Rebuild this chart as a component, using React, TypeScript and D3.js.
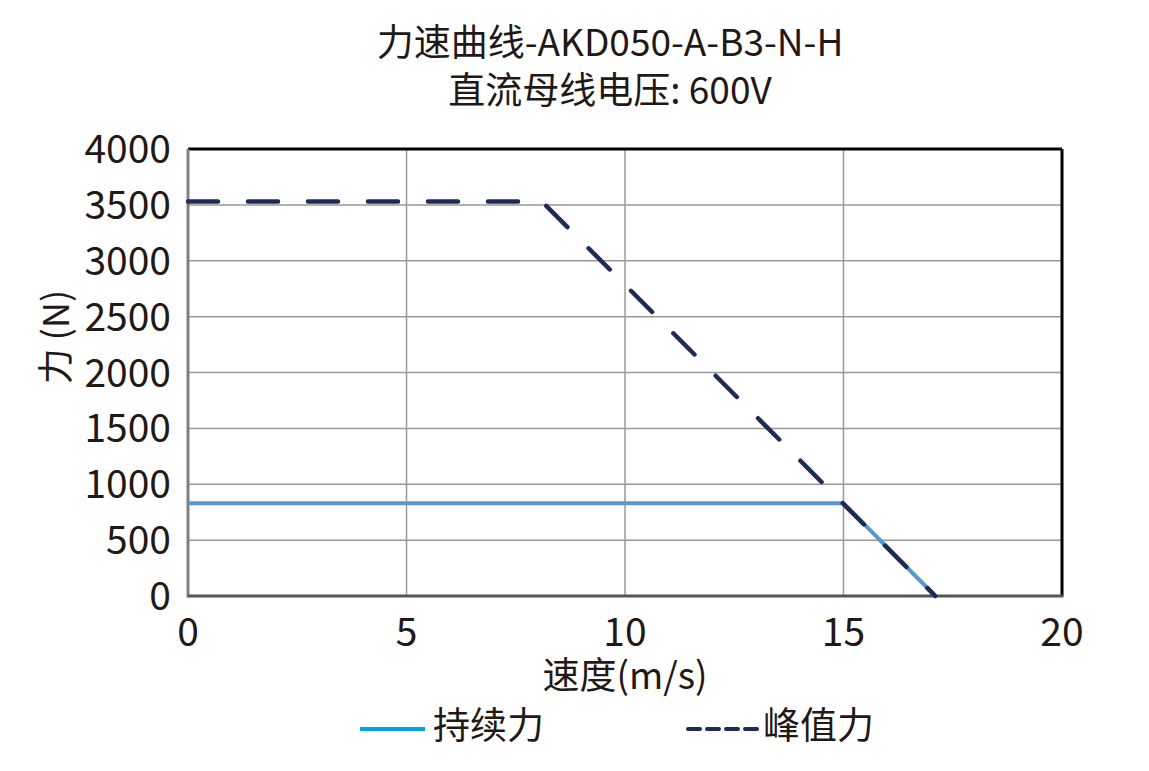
import React from "react";
import * as d3 from "d3";

const continuousSpeed = [0, 15, 17.1];
const continuousForce = [830, 830, 0];
const peakSpeed = [0, 8.1, 17.1];
const peakForce = [3530, 3530, 0];
const xTicks = [0, 5, 10, 15, 20];
const yTicks = [0, 500, 1000, 1500, 2000, 2500, 3000, 3500, 4000];
const titleLines = ["力速曲线-AKD050-A-B3-N-H", "直流母线电压: 600V"];
const xLabel = "速度(m/s)";
const yLabel = "力 (N)";
const legendNames = ["持续力", "峰值力"];

const W = 1149;
const H = 771;
const M = { left: 188, right: 1062, top: 149, bottom: 596 };
const FONT = "'Noto Sans CJK SC', 'Noto Sans', sans-serif";
const TXT = "#231815";

export default function App() {
  const x = d3.scaleLinear().domain([0, 20]).range([M.left, M.right]);
  const y = d3.scaleLinear().domain([0, 4000]).range([M.bottom, M.top]);
  const line = d3
    .line<[number, number]>()
    .x((d) => x(d[0]))
    .y((d) => y(d[1]));
  const cont = line(continuousSpeed.map((s, i) => [s, continuousForce[i]] as [number, number]));
  const peak = line(peakSpeed.map((s, i) => [s, peakForce[i]] as [number, number]));

  return (
    <svg
      width={W}
      height={H}
      style={{ position: "absolute", left: 0, top: 0, background: "#fff" }}
      fontFamily={FONT}
    >
      <rect x={0} y={0} width={W} height={H} fill="#fff" />
      {titleLines.map((t, i) => (
        <text key={i} x={610} y={40 + i * 48} textAnchor="middle" dominantBaseline="central" fontSize={37} fill={TXT}>
          {t}
        </text>
      ))}
      {/* grid */}
      {xTicks.slice(1, -1).map((t) => (
        <line key={"gx" + t} x1={x(t)} x2={x(t)} y1={M.top} y2={M.bottom} stroke="#999" strokeWidth={1.5} />
      ))}
      {yTicks.slice(1, -1).map((t) => (
        <line key={"gy" + t} x1={M.left} x2={M.right} y1={y(t)} y2={y(t)} stroke="#999" strokeWidth={1.5} />
      ))}
      {/* frame */}
      <line x1={M.left} x2={M.right} y1={M.top} y2={M.top} stroke="#000" strokeWidth={3} />
      <line x1={M.right} x2={M.right} y1={M.top} y2={M.bottom} stroke="#000" strokeWidth={3} />
      <line x1={M.left} x2={M.left} y1={M.top} y2={M.bottom + 1.5} stroke="#808080" strokeWidth={3} />
      <line x1={M.left} x2={M.right + 1.5} y1={M.bottom} y2={M.bottom} stroke="#555" strokeWidth={3} />
      {/* data */}
      <path d={cont ?? ""} fill="none" stroke="#5b97c9" strokeWidth={4} />
      <path
        d={peak ?? ""}
        fill="none"
        stroke="#1b2c55"
        strokeWidth={4.5}
        strokeDasharray="30 30"
        strokeLinecap="round"
      />
      {/* tick labels */}
      {xTicks.map((t) => (
        <text key={"xt" + t} x={x(t)} y={629} textAnchor="middle" dominantBaseline="central" fontSize={39} fill={TXT}>
          {t}
        </text>
      ))}
      {yTicks.map((t) => (
        <text key={"yt" + t} x={171} y={y(t) - 3} textAnchor="end" dominantBaseline="central" fontSize={39} fill={TXT}>
          {t}
        </text>
      ))}
      <text x={625} y={673} textAnchor="middle" dominantBaseline="central" fontSize={37} fill={TXT}>
        {xLabel}
      </text>
      <text
        transform={`translate(53,337) rotate(-90)`}
        textAnchor="middle"
        dominantBaseline="central"
        fontSize={36}
        fill={TXT}
      >
        {yLabel}
      </text>
      {/* legend */}
      <line x1={360} x2={425} y1={729} y2={729} stroke="#00a0e9" strokeWidth={4} />
      <text x={433} y={723} dominantBaseline="central" fontSize={37} fill={TXT}>
        {legendNames[0]}
      </text>
      <line
        x1={688}
        x2={757}
        y1={729}
        y2={729}
        stroke="#1b2c55"
        strokeWidth={4}
        strokeDasharray="12 7"
        strokeLinecap="round"
      />
      <text x={763} y={723} dominantBaseline="central" fontSize={37} fill={TXT}>
        {legendNames[1]}
      </text>
    </svg>
  );
}
